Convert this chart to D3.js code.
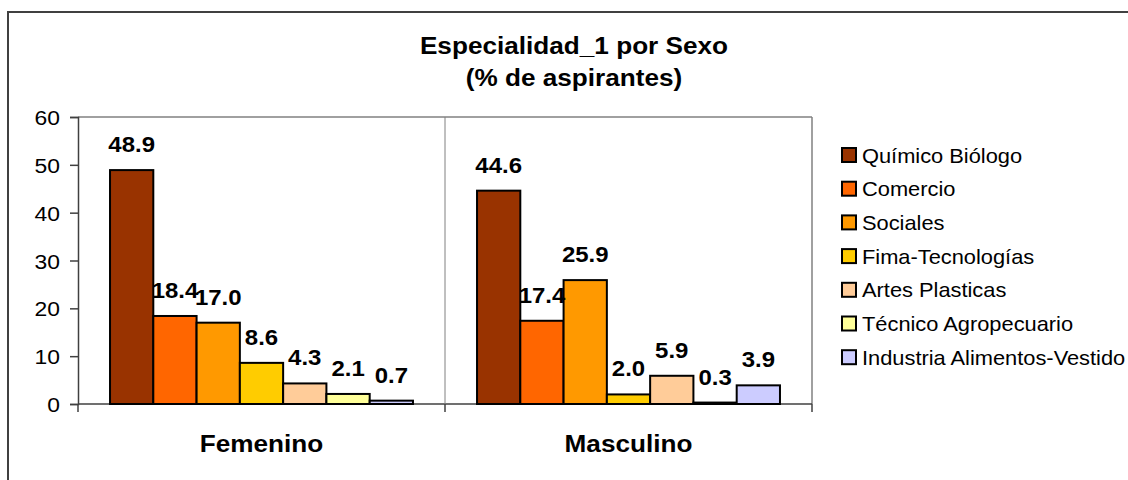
<!DOCTYPE html>
<html lang="es">
<head>
<meta charset="UTF-8">
<title>Especialidad_1 por Sexo</title>
<script src="https://cdn.jsdelivr.net/npm/d3@7"></script>
<style>
  body { margin: 0; background: #fff; }
  svg text { font-family: Arial, "Liberation Sans", sans-serif; fill: #000; }
</style>
</head>
<body>
<svg width="1128" height="480"></svg>
<script>
// data
const sexos = ['Femenino', 'Masculino'];
const especialidades = ['Químico Biólogo', 'Comercio', 'Sociales', 'Fima-Tecnologías',
  'Artes Plasticas', 'Técnico Agropecuario', 'Industria Alimentos-Vestido'];
const femenino = [48.9, 18.4, 17.0, 8.6, 4.3, 2.1, 0.7];
const masculino = [44.6, 17.4, 25.9, 2.0, 5.9, 0.3, 3.9];
const colores = ['#993300', '#FF6600', '#FF9900', '#FFCC00', '#FFCC99', '#FFFF99', '#CCCCFF'];
const yTicks = [0, 10, 20, 30, 40, 50, 60];
const titulo = ['Especialidad_1 por Sexo', '(% de aspirantes)'];

const valores = { Femenino: femenino, Masculino: masculino };

const svg = d3.select('svg');
const plot = { left: 78, right: 812, top: 117, bottom: 404 };

// the original text is a bit wider than Arial, stretch it horizontally
function stretch(sel, sx) {
  sel.each(function () {
    const t = d3.select(this);
    const x = +t.attr('x') || 0, y = +t.attr('y') || 0;
    const prev = t.attr('transform') || '';
    t.attr('x', 0).attr('y', 0)
      .attr('transform', `${prev} translate(${x},${y}) scale(${sx},1)`);
  });
}

// chart border (runs past the picture on the right/bottom)
svg.append('rect')
  .attr('x', 8).attr('y', 12)
  .attr('width', 1200).attr('height', 600)
  .attr('fill', 'none')
  .attr('stroke', '#404040')
  .attr('stroke-width', 2);

// title
svg.selectAll('text.titulo')
  .data(titulo)
  .join('text')
  .attr('class', 'titulo')
  .attr('x', 574)
  .attr('y', (d, i) => 54 + i * 32)
  .attr('text-anchor', 'middle')
  .attr('font-weight', 'bold')
  .attr('font-size', '24px')
  .text(d => d)
  .call(stretch, 1.09);

const x0 = d3.scaleBand().domain(sexos).range([plot.left, plot.right]).padding(0);
const x1 = d3.scaleBand().domain(especialidades).range([0, x0.bandwidth()])
  .paddingInner(0).paddingOuter(0.74);
const y = d3.scaleLinear().domain([0, 60]).range([plot.bottom, plot.top]);

// plot area frame
svg.append('line')
  .attr('x1', plot.left).attr('x2', plot.right)
  .attr('y1', plot.top).attr('y2', plot.top)
  .attr('stroke', '#808080').attr('stroke-width', 1.5);
svg.append('line')
  .attr('x1', plot.right).attr('x2', plot.right)
  .attr('y1', plot.top).attr('y2', plot.bottom)
  .attr('stroke', '#808080').attr('stroke-width', 1.5);

// y axis
const yAxis = svg.append('g')
  .attr('transform', `translate(${plot.left},0)`)
  .call(d3.axisLeft(y).tickValues(yTicks).tickSize(8).tickPadding(10).tickFormat(d3.format('d')));
yAxis.select('.domain').attr('stroke', '#404040').attr('stroke-width', 1.5);
yAxis.selectAll('.tick line').attr('stroke', '#404040').attr('stroke-width', 1.5);
yAxis.selectAll('.tick text')
  .attr('font-size', '21px')
  .attr('font-family', 'Arial, "Liberation Sans", sans-serif')
  .attr('fill', '#000')
  .attr('dy', '0.36em')
  .call(stretch, 1.09);

// category dividers / x axis
const xAxis = svg.append('g').attr('transform', `translate(0,${plot.bottom})`);
xAxis.append('line')
  .attr('x1', plot.left).attr('x2', plot.right)
  .attr('y1', 0).attr('y2', 0)
  .attr('stroke', '#404040').attr('stroke-width', 1.5);
const bordes = [plot.left].concat(sexos.map(s => x0(s) + x0.bandwidth()));
xAxis.selectAll('line.tk')
  .data(bordes)
  .join('line')
  .attr('class', 'tk')
  .attr('x1', d => d).attr('x2', d => d)
  .attr('y1', 0).attr('y2', 8)
  .attr('stroke', '#404040').attr('stroke-width', 1.5);
// vertical divider between categories inside the plot
svg.append('line')
  .attr('x1', x0('Masculino')).attr('x2', x0('Masculino'))
  .attr('y1', plot.top).attr('y2', plot.bottom)
  .attr('stroke', '#808080').attr('stroke-width', 1);

xAxis.selectAll('text.cat')
  .data(sexos)
  .join('text')
  .attr('class', 'cat')
  .attr('x', d => x0(d) + x0.bandwidth() / 2)
  .attr('y', 48)
  .attr('text-anchor', 'middle')
  .attr('font-weight', 'bold')
  .attr('font-size', '24px')
  .text(d => d)
  .call(stretch, 1.09);

// bars
const grupos = svg.selectAll('g.grupo')
  .data(sexos)
  .join('g')
  .attr('class', 'grupo')
  .attr('transform', d => `translate(${x0(d)},0)`);

grupos.selectAll('rect')
  .data(s => especialidades.map((e, i) => ({ e, v: valores[s][i], c: colores[i] })))
  .join('rect')
  .attr('x', d => x1(d.e))
  .attr('y', d => y(d.v))
  .attr('width', x1.bandwidth())
  .attr('height', d => y(0) - y(d.v))
  .attr('fill', d => d.c)
  .attr('stroke', '#000')
  .attr('stroke-width', 2);

grupos.selectAll('text')
  .data(s => especialidades.map((e, i) => ({ e, v: valores[s][i] })))
  .join('text')
  .attr('x', d => x1(d.e) + x1.bandwidth() / 2)
  .attr('y', d => y(d.v) - 18)
  .attr('text-anchor', 'middle')
  .attr('font-weight', 'bold')
  .attr('font-size', '22px')
  .text(d => d.v.toFixed(1))
  .call(stretch, 1.09);

// legend
const leyenda = svg.append('g').attr('transform', 'translate(842,155)');
const filas = leyenda.selectAll('g')
  .data(especialidades)
  .join('g')
  .attr('transform', (d, i) => `translate(0,${i * 33.7})`);
filas.append('rect')
  .attr('x', 0).attr('y', -7)
  .attr('width', 14).attr('height', 14)
  .attr('fill', (d, i) => colores[i])
  .attr('stroke', '#000')
  .attr('stroke-width', 2);
filas.append('text')
  .attr('x', 20)
  .attr('y', 7.5)
  .attr('font-size', '21px')
  .text(d => d)
  .call(stretch, 1.04);
</script>
</body>
</html>
